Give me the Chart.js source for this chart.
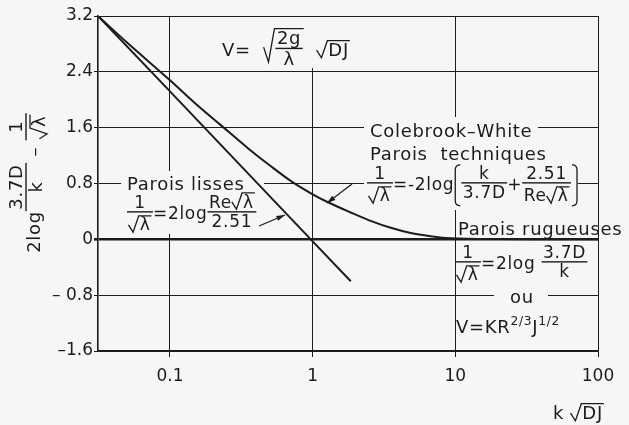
<!DOCTYPE html>
<html>
<head>
<meta charset="utf-8">
<script src="https://cdn.jsdelivr.net/npm/chart.js@4/dist/chart.umd.min.js"></script>
<style>
  html, body { margin: 0; background: #f6f6f4; }
  #wrap { position: relative; width: 629px; height: 425px; }
</style>
</head>
<body>
<div id="wrap"><canvas id="c"></canvas></div>
<script>
// values (x = k√DJ, log scale)
const X_TICKS = [0.1, 1, 10, 100];
const X_TICK_LABELS = ["0.1", "1", "10", "100"];
const Y_TICKS = [-1.6, -0.8, 0, 0.8, 1.6, 2.4, 3.2];
const Y_TICK_LABELS = ["–1.6", "– 0.8", "0", "0.8", "1.6", "2.4", "3.2"];

// Colebrook-White, parois techniques
const colebrookX = [0.0313, 0.05, 0.1, 0.16, 0.226, 0.35, 0.507, 0.71, 1.0, 1.27, 1.85, 2.55, 3.53, 4.87, 6.7, 9.3, 20, 50, 100];
const colebrookY = [3.2, 2.82, 2.28, 1.9, 1.64, 1.31, 1.05, 0.83, 0.645, 0.535, 0.385, 0.265, 0.165, 0.09, 0.045, 0.015, 0.003, 0.001, 0];
// parois lisses (droite)
const lissesX = [0.0313, 0.1, 0.97, 1.85];
const lissesY = [3.2, 2.12, 0, -0.6];

const INK = "#1c1c1c";
const BG = "#f6f6f4";
const FONT = '"DejaVu Sans", sans-serif';

// --- tiny formula typesetter -------------------------------------------
function mk(ctx, it, size) {
  if (typeof it === "string") {
    const f = `${size}px ${FONT}`;
    ctx.font = f;
    const w = ctx.measureText(it).width;
    return { w, asc: size * 0.74, desc: size * 0.2, draw(x, b) { ctx.font = f; ctx.fillText(it, x, b); } };
  }
  if (Array.isArray(it)) {
    const parts = it.map((p) => mk(ctx, p, size));
    return {
      w: parts.reduce((s, p) => s + p.w, 0),
      asc: Math.max(0, ...parts.map((p) => p.asc)),
      desc: Math.max(0, ...parts.map((p) => p.desc)),
      draw(x, b) { for (const p of parts) { p.draw(x, b); x += p.w; } },
    };
  }
  if (it.frac) {
    const s = it.size || size;
    const n = mk(ctx, it.frac[0], s), d = mk(ctx, it.frac[1], s);
    const w = Math.max(n.w, d.w) + 3;
    const ax = it.ax ?? size * 0.42;
    return {
      w, asc: ax + 3 + n.asc + n.desc * 0.4, desc: d.asc + d.desc + 3 - ax,
      draw(x, b) {
        const y = b - ax;
        n.draw(x + (w - n.w) / 2, y - 3 - n.desc * 0.4);
        d.draw(x + (w - d.w) / 2, y + 3 + d.asc);
        ctx.fillRect(x, y - 0.7, w, 1.4);
      },
    };
  }
  if (it.sqrt) {
    const c = mk(ctx, it.sqrt, size);
    const rw = size * 0.6;
    return {
      w: rw + c.w + 2, asc: c.asc + 3, desc: c.desc,
      draw(x, b) {
        const top = b - c.asc - 2;
        const bot = b + c.desc * 0.5;
        ctx.beginPath();
        ctx.moveTo(x, top + (bot - top) * 0.55);
        ctx.lineTo(x + rw * 0.45, bot);
        ctx.lineTo(x + rw, top);
        ctx.lineTo(x + rw + c.w + 2, top);
        ctx.stroke();
        c.draw(x + rw + 1, b);
      },
    };
  }
  if (it.sup) {
    const c = mk(ctx, it.sup, size * 0.68);
    return { w: c.w, asc: size * 0.95, desc: 0, draw(x, b) { c.draw(x, b - size * 0.45); } };
  }
  if (it.br) {
    const c = mk(ctx, it.br, size);
    const bw = 7;
    return {
      w: c.w + bw * 2, asc: c.asc + 1, desc: c.desc + 1,
      draw(x, b) {
        const top = b - c.asc - 1, bot = b + c.desc + 1;
        ctx.beginPath();
        ctx.moveTo(x + bw - 1, top); ctx.quadraticCurveTo(x + 1, top, x + 1, top + 5);
        ctx.lineTo(x + 1, bot - 5); ctx.quadraticCurveTo(x + 1, bot, x + bw - 1, bot);
        const r = x + bw * 2 + c.w;
        ctx.moveTo(r - bw + 1, top); ctx.quadraticCurveTo(r - 1, top, r - 1, top + 5);
        ctx.lineTo(r - 1, bot - 5); ctx.quadraticCurveTo(r - 1, bot, r - bw + 1, bot);
        ctx.stroke();
        c.draw(x + bw, b);
      },
    };
  }
  return mk(ctx, "", size);
}

const invSqrtLambda = { frac: [["1"], [{ sqrt: ["λ"] }]] };

const NOTES = [
  { x: 222, y: 56, size: 18, items: ["V=  ", { sqrt: [{ frac: [["2g"], ["λ"]] }] }, "  ", { sqrt: ["DJ"] }] },
  { x: 370, y: 137, size: 18, items: ["Colebrook–White"] },
  { x: 370, y: 160, size: 18, items: ["Parois  techniques"] },
  { x: 367, y: 190, size: 17, items: [invSqrtLambda, "=-2log",
      { br: [{ frac: [["k"], ["3.7D"]] }, "+", { frac: [["2.51"], ["Re", { sqrt: ["λ"] }]] }] }] },
  { x: 127, y: 190, size: 18, items: ["Parois lisses"] },
  { x: 127, y: 219, size: 17, items: [invSqrtLambda, "=2log", { frac: [["Re", { sqrt: ["λ"] }], ["2.51"]] }] },
  { x: 458, y: 235, size: 18, items: ["Parois rugueuses"] },
  { x: 455, y: 269, size: 17, items: [invSqrtLambda, "=2log ", { frac: [["3.7D"], ["k"]] }] },
  { x: 510, y: 303, size: 18, items: ["ou"] },
  { x: 456, y: 333, size: 18, items: ["V=KR", { sup: "2/3" }, "J", { sup: "1/2" }] },
  { x: 553, y: 419, size: 18, items: ["k ", { sqrt: ["DJ"] }] },
];

// background patches where the grid is interrupted by the lettering
const MASKS = [
  [214, 17, 372, 68],
  [364, 117, 538, 140],
  [364, 140, 578, 210],
  [121, 171, 264, 234],
  [494, 288, 548, 309],
];

const ARROWS = [
  { from: [352, 184], to: [327, 203] },
  { from: [259, 226], to: [285, 215] },
];

function arrow(ctx, a, b) {
  ctx.beginPath(); ctx.moveTo(a[0], a[1]); ctx.lineTo(b[0], b[1]); ctx.stroke();
  const ang = Math.atan2(b[1] - a[1], b[0] - a[0]);
  ctx.beginPath();
  ctx.moveTo(b[0], b[1]);
  ctx.lineTo(b[0] - 9 * Math.cos(ang - 0.3), b[1] - 9 * Math.sin(ang - 0.3));
  ctx.lineTo(b[0] - 9 * Math.cos(ang + 0.3), b[1] - 9 * Math.sin(ang + 0.3));
  ctx.closePath(); ctx.fill();
}

const notes = {
  id: "notes",
  beforeDatasetsDraw(chart) {
    const ctx = chart.ctx;
    ctx.save();
    ctx.fillStyle = BG;
    for (const r of MASKS) ctx.fillRect(r[0], r[1], r[2] - r[0], r[3] - r[1]);
    ctx.restore();
  },
  afterDatasetsDraw(chart) {
    const ctx = chart.ctx;
    ctx.save();
    ctx.fillStyle = INK; ctx.strokeStyle = INK; ctx.lineWidth = 1.3;
    ctx.textBaseline = "alphabetic"; ctx.textAlign = "left";
    ctx.letterSpacing = "0.7px";
    for (const n of NOTES) mk(ctx, n.items, n.size).draw(n.x, n.y);
    for (const a of ARROWS) arrow(ctx, a.from, a.to);

    // y axis title, rotated
    const t = mk(ctx, ["2log", { frac: [["3.7D"], ["k"]], ax: 14 }, " – ", { frac: [["1"], [{ sqrt: ["λ"] }]], ax: 14 }], 18);
    ctx.translate(26, 183);
    ctx.rotate(-Math.PI / 2);
    t.draw(-t.w / 2, 14);
    ctx.restore();
  },
};

new Chart(document.getElementById("c"), {
  type: "scatter",
  data: {
    datasets: [
      {
        data: colebrookX.map((x, i) => ({ x, y: colebrookY[i] })),
        showLine: true, borderColor: INK, borderWidth: 2, pointRadius: 0,
        cubicInterpolationMode: "monotone",
      },
      {
        data: lissesX.map((x, i) => ({ x, y: lissesY[i] })),
        showLine: true, borderColor: INK, borderWidth: 2, pointRadius: 0,
      },
    ],
  },
  options: {
    responsive: true,
    maintainAspectRatio: false,
    animation: false,
    layout: { padding: { top: 16, right: 31, left: 0, bottom: 0 } },
    plugins: { legend: { display: false }, tooltip: { enabled: false } },
    scales: {
      x: {
        type: "logarithmic", min: 0.0313, max: 100,
        afterBuildTicks: (s) => { s.ticks = X_TICKS.map((v) => ({ value: v })); },
        afterFit: (s) => { s.height = 74; },
        ticks: {
          color: INK, font: { family: FONT, size: 17 }, padding: 9, maxRotation: 0, autoSkip: false,
          callback: (v, i) => X_TICK_LABELS[i],
        },
        grid: { color: INK, lineWidth: 1, tickLength: 6 },
        border: { color: INK, width: 1.6 },
      },
      y: {
        min: -1.6, max: 3.2,
        afterBuildTicks: (s) => { s.ticks = Y_TICKS.map((v) => ({ value: v })); },
        afterFit: (s) => { s.width = 98; },
        ticks: {
          color: INK, font: { family: FONT, size: 17 }, padding: 1,
          callback: (v, i) => Y_TICK_LABELS[i],
        },
        grid: { color: INK, lineWidth: (c) => (c.tick && c.tick.value === 0 ? 2.6 : 1), tickLength: 4 },
        border: { color: INK, width: 1.6 },
      },
    },
  },
  plugins: [notes],
});
</script>
</body>
</html>
